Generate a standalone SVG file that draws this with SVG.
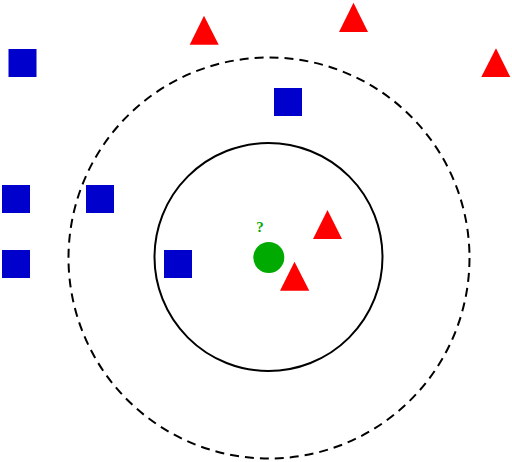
<svg xmlns="http://www.w3.org/2000/svg" width="512" height="462" viewBox="0 0 512 462">
<style>
.sq{fill:#0000cc}
.tri{fill:#ff0000}
.ring{fill:none;stroke:#000;stroke-width:2}
.dash{stroke-dasharray:9 6}
.q{font-family:"Liberation Serif",serif;font-weight:bold;font-size:15px;fill:#00aa00;text-anchor:middle}
</style>
<rect width="512" height="462" fill="#fff"/>
<g id="connectors">
<circle id="outer-ring" class="ring dash" cx="269" cy="258" r="200.5"/>
<circle id="inner-ring" class="ring" cx="268.5" cy="257" r="114"/>
</g>
<g id="sq1"><rect class="sq" x="8.5" y="49" width="28" height="28"/></g>
<g id="sq2"><rect class="sq" x="274" y="88" width="28" height="28"/></g>
<g id="sq3"><rect class="sq" x="2" y="185" width="28" height="28"/></g>
<g id="sq4"><rect class="sq" x="86" y="185" width="28" height="28"/></g>
<g id="sq5"><rect class="sq" x="2" y="250" width="28" height="28"/></g>
<g id="sq6"><rect class="sq" x="164" y="250" width="28" height="28"/></g>
<g id="tri1"><polygon class="tri" points="204,15.7 218.7,44.7 189.7,44.7"/></g>
<g id="tri2"><polygon class="tri" points="353.5,2.7 368,32 339,32"/></g>
<g id="tri3"><polygon class="tri" points="496,48.3 510.3,77 481.3,77"/></g>
<g id="tri4"><polygon class="tri" points="327.5,210 342,239 313,239"/></g>
<g id="tri5"><polygon class="tri" points="294.5,261.7 309.3,290.7 280,290.7"/></g>
<g id="query">
<circle cx="268.8" cy="257.5" r="15.5" fill="#00aa00"/>
<text class="q" x="260" y="231.5">?</text>
</g>
</svg>
